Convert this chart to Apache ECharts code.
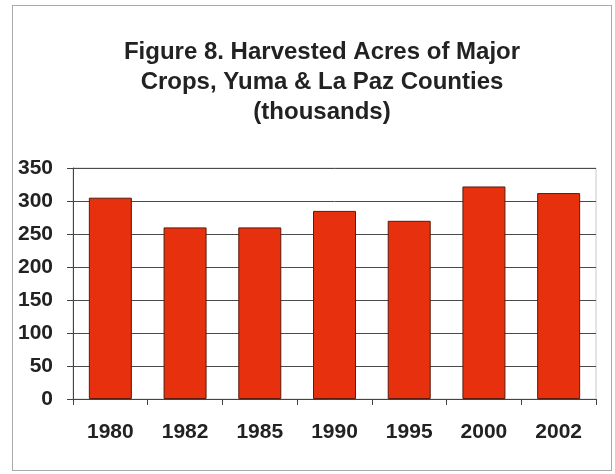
<!DOCTYPE html>
<html>
<head>
<meta charset="utf-8">
<script src="https://cdn.jsdelivr.net/npm/echarts@6/dist/echarts.min.js"></script>
<style>
  html, body { margin: 0; padding: 0; background: #fff; }
  #frame {
    position: absolute; left: 12px; top: 5px; width: 600px; height: 466px;
    border: 1px solid #a8a8a8; box-sizing: border-box;
  }
  #chart { position: absolute; left: 0; top: 0; width: 615px; height: 474px; }
</style>
</head>
<body>
<div id="frame"></div>
<div id="chart"></div>
<script>
// years on the x axis
const years = ["1980", "1982", "1985", "1990", "1995", "2000", "2002"];
// harvested acres, thousands
const acres = [305, 260, 260, 285, 270, 322, 312];
// y axis range
const yMin = 0;
const yMax = 350;
const yStep = 50;

const chart = echarts.init(document.getElementById("chart"));
const font = "'Liberation Sans', Arial, sans-serif";

const option = {
  backgroundColor: "transparent",
  animation: false,
  title: {
    text: "Figure 8. Harvested Acres of Major\nCrops, Yuma & La Paz Counties\n(thousands)",
    left: 317,
    top: 32,
    textAlign: "center",
    textStyle: {
      fontFamily: font,
      fontWeight: "bold",
      fontSize: 24,
      lineHeight: 30,
      color: "#222",
    },
  },
  grid: {
    left: 73,
    right: 19,
    top: 168,
    bottom: 75,
    show: true,
    borderColor: "#c8c8c8",
    borderWidth: 1,
  },
  xAxis: {
    type: "category",
    data: years,
    axisLine: { lineStyle: { color: "#444", width: 1 } },
    axisTick: { show: true, length: 6, lineStyle: { color: "#444" } },
    axisLabel: {
      margin: 23,
      fontFamily: font,
      fontWeight: "bold",
      fontSize: 21,
      color: "#222",
    },
  },
  yAxis: {
    type: "value",
    min: yMin,
    max: yMax,
    interval: yStep,
    axisLine: { show: true, lineStyle: { color: "#444", width: 1 } },
    axisTick: { show: true, length: 6, lineStyle: { color: "#444" } },
    splitLine: { lineStyle: { color: "#4a4a4a", width: 1 } },
    axisLabel: {
      margin: 20,
      fontFamily: font,
      fontWeight: "bold",
      fontSize: 21,
      color: "#222",
    },
  },
  series: [
    {
      type: "bar",
      data: acres,
      barWidth: 43,
      itemStyle: {
        color: "#e6300e",
        borderColor: "#5a1a0c",
        borderWidth: 1,
      },
    },
  ],
};

chart.setOption(option);
</script>
</body>
</html>
